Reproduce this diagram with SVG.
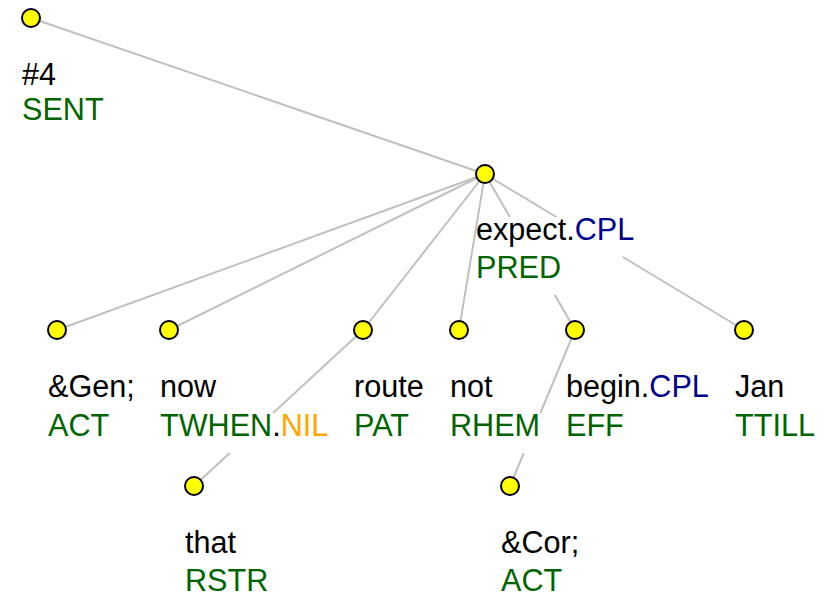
<svg xmlns="http://www.w3.org/2000/svg" width="828" height="595" viewBox="0 0 828 595">
<style>
.bg{fill:#ffffff}
.edge{stroke:#c0c0c0;stroke-width:2;fill:none}
.node{fill:#ffff00;stroke:#000000;stroke-width:2}
text{font-family:"Liberation Sans",Arial,Helvetica,sans-serif;font-size:30.6px;fill:#000000}
.f{fill:#006400}
.b{fill:#00008b}
.o{fill:#ffa500}
</style>
<rect class="bg" x="0" y="0" width="828" height="595"/>
<g id="connectors">
<path class="edge" d="M31,18 L485,174"/>
<path class="edge" d="M485,174 L57,330"/>
<path class="edge" d="M485,174 L169,330"/>
<path class="edge" d="M485,174 L363,330"/>
<path class="edge" d="M485,174 L459,330"/>
<path class="edge" d="M485,174 L509.8,217 M554.8,295 L575,330"/>
<path class="edge" d="M485,174 L556.4,217 M622.8,257 L744,330"/>
<path class="edge" d="M363,330 L273.1,413 M229.8,453 L194,486"/>
<path class="edge" d="M575,330 L540.4,413 M523.8,453 L510,486"/>
</g>
<g id="n-root">
<circle class="node" cx="31" cy="18" r="9"/>
<text x="22" y="85">#4</text>
<text x="22" y="120" class="f">SENT</text>
</g>
<g id="n-expect">
<circle class="node" cx="485" cy="174" r="9"/>
<text x="476" y="240">expect.<tspan class="b">CPL</tspan></text>
<text x="476" y="278" class="f">PRED</text>
</g>
<g id="n-gen">
<circle class="node" cx="57" cy="330" r="9"/>
<text x="48" y="397">&amp;Gen;</text>
<text x="48" y="436" class="f">ACT</text>
</g>
<g id="n-now">
<circle class="node" cx="169" cy="330" r="9"/>
<text x="160" y="397">now</text>
<text x="160" y="436"><tspan class="f">TWHEN</tspan>.<tspan class="o">NIL</tspan></text>
</g>
<g id="n-route">
<circle class="node" cx="363" cy="330" r="9"/>
<text x="354" y="397">route</text>
<text x="354" y="436" class="f">PAT</text>
</g>
<g id="n-not">
<circle class="node" cx="459" cy="330" r="9"/>
<text x="450" y="397">not</text>
<text x="450" y="436" class="f">RHEM</text>
</g>
<g id="n-begin">
<circle class="node" cx="575" cy="330" r="9"/>
<text x="566" y="397">begin.<tspan class="b">CPL</tspan></text>
<text x="566" y="436" class="f">EFF</text>
</g>
<g id="n-jan">
<circle class="node" cx="744" cy="330" r="9"/>
<text x="735" y="397">Jan</text>
<text x="735" y="436" class="f">TTILL</text>
</g>
<g id="n-that">
<circle class="node" cx="194" cy="486" r="9"/>
<text x="185" y="553">that</text>
<text x="185" y="591" class="f">RSTR</text>
</g>
<g id="n-cor">
<circle class="node" cx="510" cy="486" r="9"/>
<text x="501" y="553">&amp;Cor;</text>
<text x="501" y="591" class="f">ACT</text>
</g>
</svg>
